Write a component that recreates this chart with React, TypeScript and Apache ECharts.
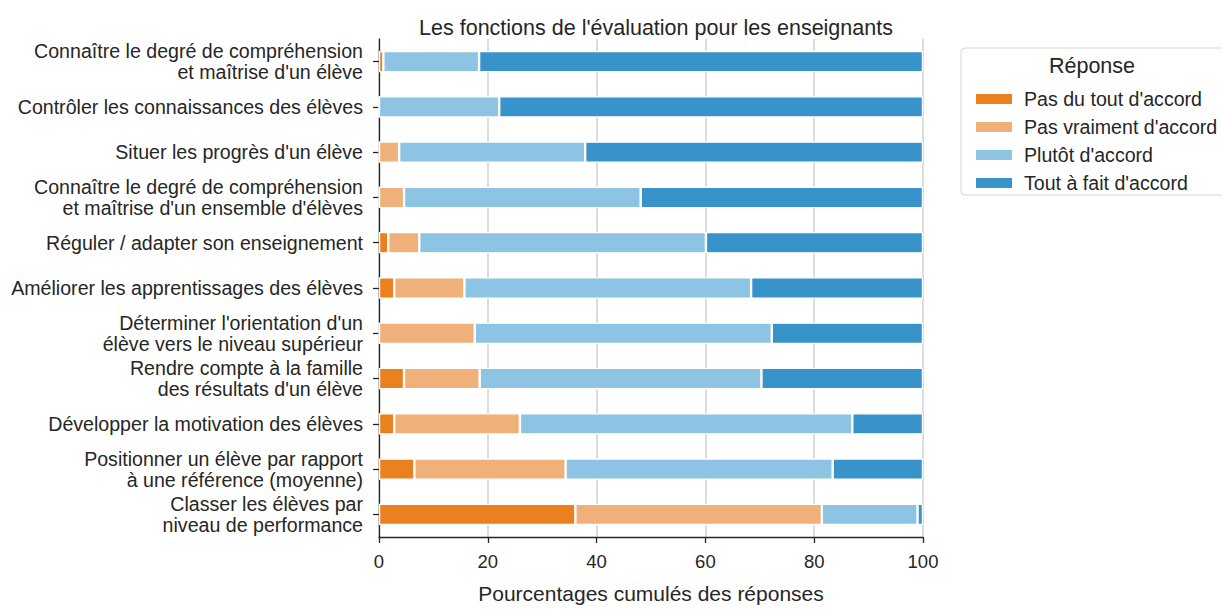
import React, { useEffect, useRef } from "react";
import * as echarts from "echarts";

const categories = [
  "Connaître le degré de compréhension\net maîtrise d'un élève",
  "Contrôler les connaissances des élèves",
  "Situer les progrès d'un élève",
  "Connaître le degré de compréhension\net maîtrise d'un ensemble d'élèves",
  "Réguler / adapter son enseignement",
  "Améliorer les apprentissages des élèves",
  "Déterminer l'orientation d'un\nélève vers le niveau supérieur",
  "Rendre compte à la famille\ndes résultats d'un élève",
  "Développer la motivation des élèves",
  "Positionner un élève par rapport\nà une référence (moyenne)",
  "Classer les élèves par\nniveau de performance",
];

const seriesNames = [
  "Pas du tout d'accord",
  "Pas vraiment d'accord",
  "Plutôt d'accord",
  "Tout à fait d'accord",
];

const pasDuTout = [0.8, 0, 0, 0, 1.7, 2.8, 0, 4.6, 2.8, 6.5, 36.1];
const pasVraiment = [0, 0, 3.7, 4.6, 5.7, 12.9, 17.6, 13.9, 23.1, 27.8, 45.3];
const plutot = [17.6, 22.1, 34.2, 43.5, 52.7, 52.7, 54.6, 51.8, 61.1, 49.1, 17.6];
const toutAFait = [81.6, 77.9, 62.1, 51.9, 39.9, 31.6, 27.8, 29.7, 13.0, 16.6, 1.0];

const colors = ["#ea801e", "#f0b079", "#8dc4e3", "#3893ca"];

export default function App() {
  const ref = useRef<HTMLDivElement>(null);
  useEffect(() => {
    if (!ref.current) return;
    const chart = echarts.init(ref.current, undefined, { renderer: "svg" });
    const font = "Liberation Sans, Arial, sans-serif";
    const values = [pasDuTout, pasVraiment, plutot, toutAFait];
    chart.setOption({
      animation: false,
      textStyle: { fontFamily: font, color: "#262626" },
      title: {
        text: "Les fonctions de l'évaluation pour les enseignants",
        left: 651,
        top: 12,
        textAlign: "center",
        textStyle: { fontSize: 21.5, fontWeight: "normal", color: "#262626", fontFamily: font },
      },
      grid: { left: 379, right: 299, top: 39, bottom: 60, containLabel: false },
      legend: {
        orient: "vertical",
        left: 969,
        top: 84,
        itemWidth: 38,
        itemHeight: 12,
        itemGap: 8,
        icon: "rect",
        data: seriesNames,
        textStyle: { fontSize: 19.6, color: "#262626", fontFamily: font, padding: [0, 0, 0, 6] },
      },
      graphic: [
        {
          type: "rect",
          shape: { x: 961, y: 48, width: 275, height: 147, r: 4 },
          style: { fill: "#ffffff", stroke: "#d6d6d6", lineWidth: 1 },
          z: -1,
        },
        {
          type: "text",
          x: 1092,
          y: 55,
          style: {
            text: "Réponse",
            fontSize: 21.5,
            fill: "#262626",
            fontFamily: font,
            textAlign: "center",
          },
        },
      ],
      xAxis: {
        type: "value",
        min: 0,
        max: 100,
        interval: 20,
        name: "Pourcentages cumulés des réponses",
        nameLocation: "middle",
        nameGap: 46,
        nameTextStyle: { fontSize: 21, color: "#262626", fontFamily: font },
        axisLine: { show: true, lineStyle: { color: "#262626", width: 1.3 } },
        axisTick: { show: true, length: 6, lineStyle: { color: "#262626", width: 1.3 } },
        axisLabel: { fontSize: 18.5, color: "#262626", margin: 15, fontFamily: font },
        splitLine: { show: true, lineStyle: { color: "#d0d0d0", width: 1.5 } },
      },
      yAxis: {
        type: "category",
        data: categories,
        inverse: true,
        axisLine: { show: true, lineStyle: { color: "#262626", width: 1.3 } },
        axisTick: { show: true, length: 6, alignWithLabel: true, lineStyle: { color: "#262626", width: 1.3 } },
        axisLabel: {
          fontSize: 19.6,
          color: "#262626",
          margin: 16,
          lineHeight: 21,
          align: "right",
          fontFamily: font,
        },
        splitLine: { show: false },
      },
      series: seriesNames.map((name, i) => ({
        name,
        type: "bar",
        stack: "total",
        barWidth: "47%",
        data: values[i],
        itemStyle: { color: colors[i], borderColor: "#ffffff", borderWidth: 1.2 },
      })),
    });
    return () => chart.dispose();
  }, []);
  return (
    <div
      ref={ref}
      style={{ position: "fixed", left: 0, top: 0, width: 1222, height: 609, background: "#fff" }}
    />
  );
}
